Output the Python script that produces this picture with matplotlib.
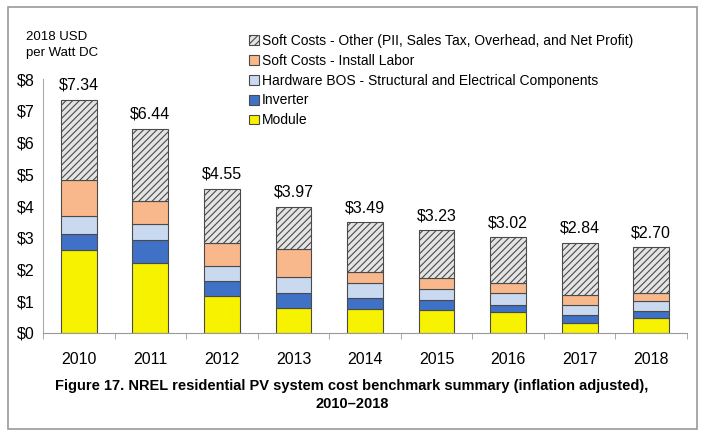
import matplotlib.pyplot as plt
import numpy as np
from matplotlib.patches import Rectangle

# ==========================
# Data (2018 USD per Watt DC)
# ==========================
years = ["2010", "2011", "2012", "2013", "2014", "2015", "2016", "2017", "2018"]
module = [2.62, 2.19, 1.16, 0.79, 0.75, 0.73, 0.66, 0.33, 0.47]
inverter = [0.50, 0.74, 0.47, 0.47, 0.36, 0.32, 0.23, 0.24, 0.23]
hardware_bos = [0.56, 0.51, 0.48, 0.51, 0.45, 0.34, 0.37, 0.32, 0.30]
install_labor = [1.14, 0.72, 0.71, 0.87, 0.36, 0.35, 0.32, 0.32, 0.26]
totals = [7.34, 6.44, 4.55, 3.97, 3.49, 3.23, 3.02, 2.84, 2.70]
soft_other = [t - m - i - b - l for t, m, i, b, l in
              zip(totals, module, inverter, hardware_bos, install_labor)]

labels = ["Module", "Inverter",
          "Hardware BOS - Structural and Electrical Components",
          "Soft Costs - Install Labor",
          "Soft Costs - Other (PII, Sales Tax, Overhead, and Net Profit)"]
colors = ["#F7F200", "#3F72C6", "#C9DAF0", "#F9B88C", "#E4E4E4"]
hatches = [None, None, None, None, "/////"]

plt.rcParams["font.family"] = ["Liberation Sans", "DejaVu Sans"]
plt.rcParams["hatch.color"] = "#8A8A8A"
plt.rcParams["hatch.linewidth"] = 0.8

fig = plt.figure(figsize=(7.04, 4.32), dpi=100)
# axes: left spine at x=43px, baseline at y=333px, $8 at about y=79px
ax = fig.add_axes([43 / 704, 1 - 333 / 432, 644 / 704, 254 / 432])

x = np.arange(len(years))
bottom = np.zeros(len(years))
handles = []
for vals, lab, col, h in zip([module, inverter, hardware_bos, install_labor, soft_other],
                             labels, colors, hatches):
    bars = ax.bar(x, vals, width=0.5, bottom=bottom, color=col, hatch=h,
                  edgecolor="#4A4A4A", linewidth=0.8, label=lab)
    handles.append(bars)
    bottom += np.array(vals)

for xi, t in zip(x, totals):
    ax.text(xi, t + 0.22, f"${t:.2f}", ha="center", va="bottom", fontsize=11.5)

ax.set_xlim(-0.5, len(years) - 0.5)
ax.set_ylim(0, 8)
ax.set_yticks(range(0, 9))
ax.set_yticklabels([f"${v}" for v in range(0, 9)], fontsize=11.5)
ax.set_xticks(x)
ax.set_xticklabels(years, fontsize=11.5)
ax.set_xticks(np.arange(-0.5, len(years)), minor=True)
ax.tick_params(axis="x", which="major", length=0, pad=14)
ax.tick_params(axis="x", which="minor", length=4, color="#999999")
ax.tick_params(axis="y", length=0, pad=6)
for s in ["top", "right"]:
    ax.spines[s].set_visible(False)
ax.spines["left"].set_color("#AAAAAA")
ax.spines["bottom"].set_color("#999999")

fig.text(26 / 704, 1 - 31 / 432, "2018 USD\nper Watt DC", fontsize=9.5,
         ha="left", va="top", linespacing=1.4)

leg = fig.legend(handles[::-1], labels[::-1], loc="upper left",
                 bbox_to_anchor=(249 / 704, 1 - 34 / 432), frameon=False,
                 fontsize=10, handlelength=0.7, handleheight=0.7,
                 handletextpad=0.25, labelspacing=0.42, borderaxespad=0,
                 borderpad=0)

fig.text(0.5, 1 - 379 / 432,
         "Figure 17. NREL residential PV system cost benchmark summary (inflation adjusted),\n2010\u20132018",
         ha="center", va="top", fontsize=10.5, fontweight="bold", linespacing=1.35)

fig.patches.append(Rectangle((8 / 704, 3 / 432), 689 / 704, 422 / 432,
                             transform=fig.transFigure, fill=False,
                             edgecolor="#9A9A9A", linewidth=1.2))

fig.savefig("out.png", dpi=100)
